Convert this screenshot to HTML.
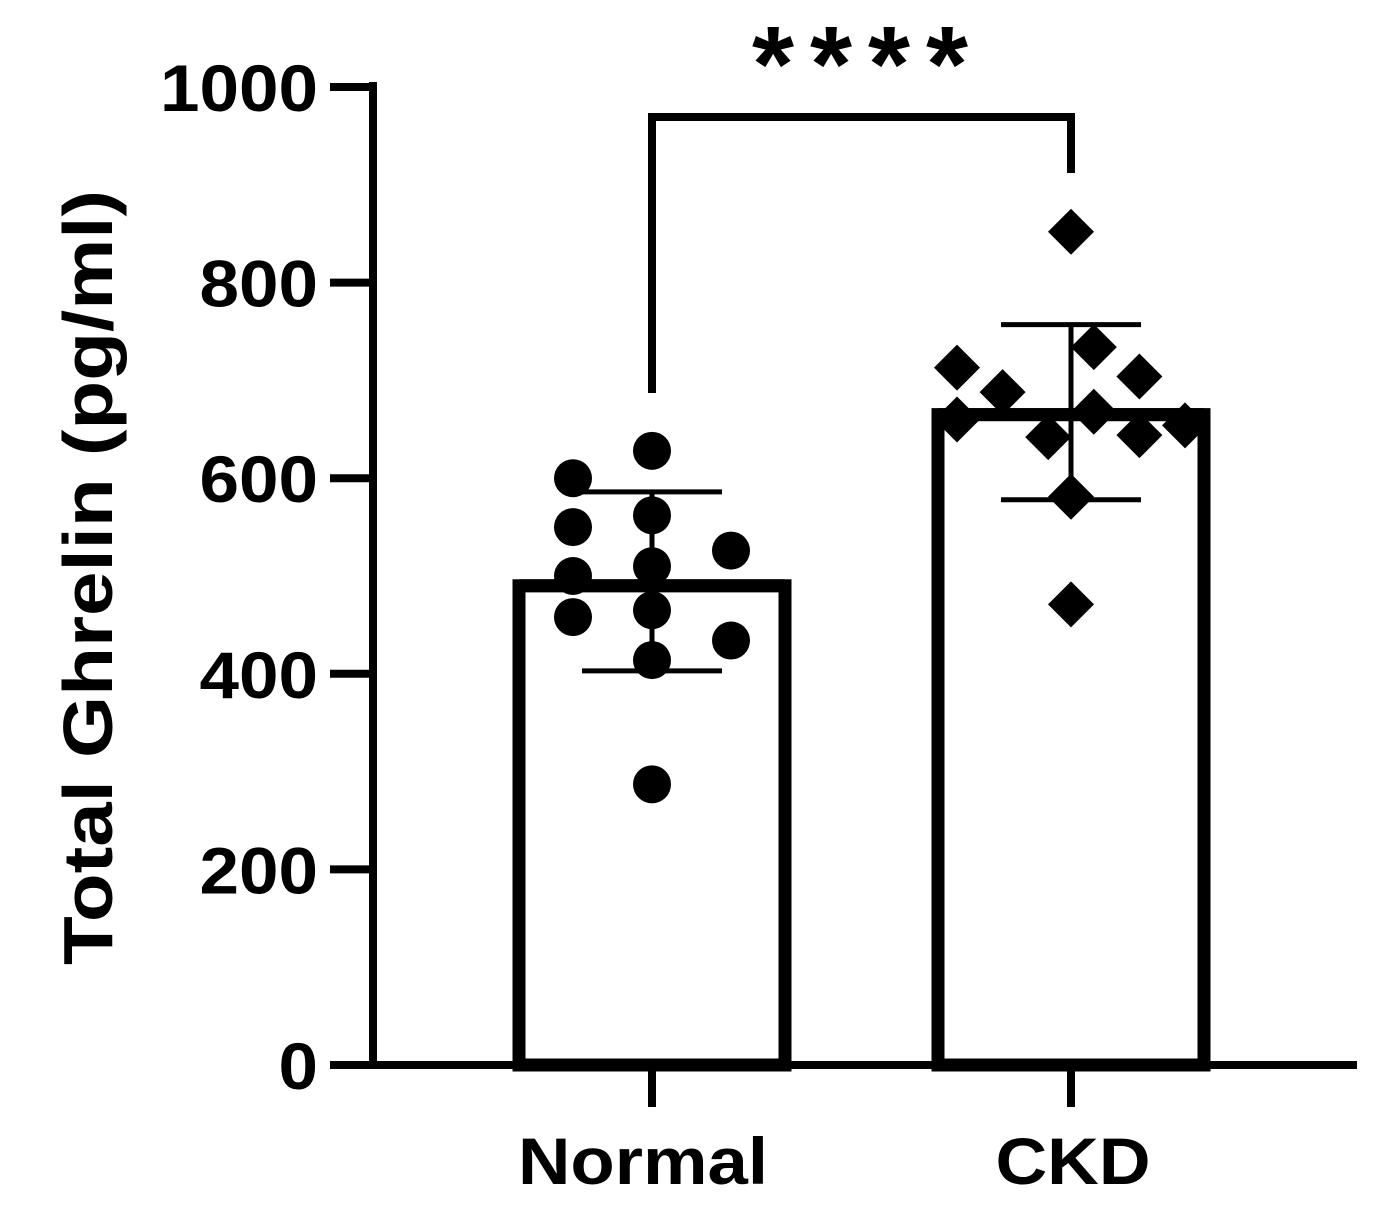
<!DOCTYPE html>
<html><head><meta charset="utf-8"><style>
body{margin:0;background:#fff}
svg{display:block;font-family:"Liberation Sans",Arial,sans-serif;font-weight:bold}
</style></head><body>
<svg id="chart" width="1399" height="1222" viewBox="0 0 1399 1222">
</svg>
<script>
const categories=["Normal","CKD"];
const means=[490,665];
const sdHigh=[586,757];
const sdLow=[403,578];
const yTicks=[0,200,400,600,800,1000];
const normalVals=[600,628,550,562,526,500,510,458,465,434,414,287];
const normalOffsets=[-1,0,-1,0,1,-1,0,-1,0,1,0,0];
const ckdVals=[852,713,688,734,704,660,668,642,644,654,581,471];
const ckdOffsets=[0,-1.5,-0.9,0.3,0.9,-1.5,0.3,-0.3,0.9,1.5,0,0];
const sigLabel="****";

const NS="http://www.w3.org/2000/svg";
const svg=document.getElementById('chart');
const y=v=>1065-v*0.978;
const xc=[652,1071];
const catW=[250,155];
function el(tag,attrs,parent){const e=document.createElementNS(NS,tag);for(const k in attrs)e.setAttribute(k,attrs[k]);(parent||svg).appendChild(e);return e;}

categories.forEach((c,i)=>{
  const r=el('rect',{x:xc[i]-133,y:y(means[i]),width:266,height:y(0)-y(means[i]),fill:'#fff',stroke:'#000','stroke-width':13});
  
  
});
const ya=el('line',{x1:373,y1:82,x2:373,y2:1065,stroke:'#000','stroke-width':8});


const xa=el('line',{x1:330,y1:1065,x2:1357,y2:1065,stroke:'#000','stroke-width':8});


yTicks.forEach(t=>{
  el('line',{x1:330,y1:y(t),x2:373,y2:y(t),stroke:'#000','stroke-width':8});
  const s=String(t);
  const tx=el('text',{x:318-s.length*39.5,y:y(t)+24,'font-size':66,textLength:s.length*39.5,lengthAdjust:'spacingAndGlyphs'});
  tx.textContent=s;
  
  
});
categories.forEach((c,i)=>{
  el('line',{x1:xc[i],y1:1065,x2:xc[i],y2:1107,stroke:'#000','stroke-width':8});
  const cx=i===0?643:1073;
  const tx=el('text',{x:cx-catW[i]/2,y:1184,'font-size':66,textLength:catW[i],lengthAdjust:'spacingAndGlyphs'});
  tx.textContent=c;
  
  
});
const yt=el('text',{transform:'translate(112,965) rotate(-90)','font-size':70,textLength:775,lengthAdjust:'spacingAndGlyphs'});
yt.textContent='Total Ghrelin (pg/ml)';


normalVals.forEach((v,i)=>{
  const p=el('circle',{cx:xc[0]+normalOffsets[i]*79,cy:y(v),r:19,fill:'#000'});
  
  
});
ckdVals.forEach((v,i)=>{
  const cx=xc[1]+ckdOffsets[i]*76,cy=y(v),s=23;
  const p=el('polygon',{points:`${cx},${cy-s} ${cx+s},${cy} ${cx},${cy+s} ${cx-s},${cy}`,fill:'#000'});
  
  
});
categories.forEach((c,i)=>{
  const g=el('g',{stroke:'#000','stroke-width':5});
  
  
  el('line',{x1:xc[i],y1:y(sdHigh[i]),x2:xc[i],y2:y(sdLow[i])},g);
  el('line',{x1:xc[i]-70,y1:y(sdHigh[i]),x2:xc[i]+70,y2:y(sdHigh[i])},g);
  el('line',{x1:xc[i]-70,y1:y(sdLow[i]),x2:xc[i]+70,y2:y(sdLow[i])},g);
  el('line',{x1:xc[i]-133,y1:y(means[i]),x2:xc[i]+133,y2:y(means[i]),'stroke-width':13},g);
});
const br=el('polyline',{points:`${xc[0]},393 ${xc[0]},117 ${xc[1]},117 ${xc[1]},173`,fill:'none',stroke:'#000','stroke-width':8});


const sg=el('g',{});


sigLabel.split('').forEach((ch,i)=>{
  const st=el('text',{x:773+i*58,y:101,'font-size':108,'text-anchor':'middle'},sg);
  st.textContent=ch;
  
  
});
</script>
</body></html>
